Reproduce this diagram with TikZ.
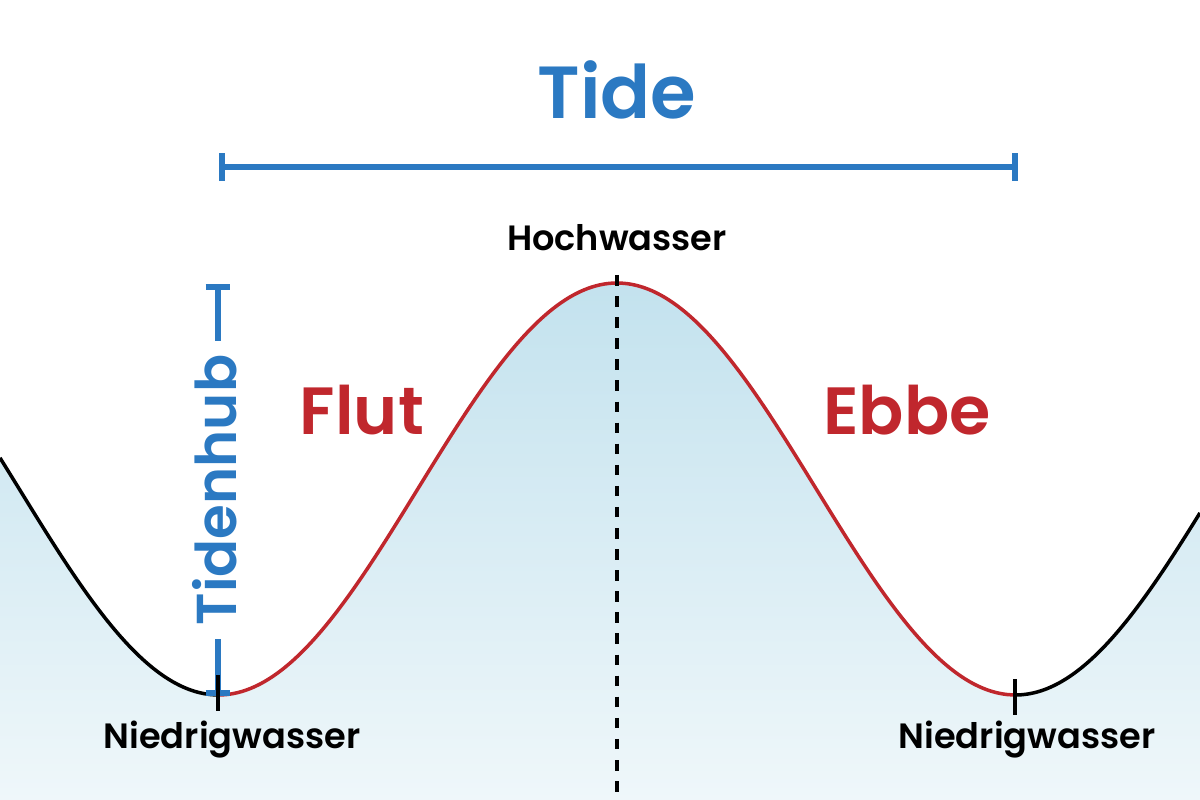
\documentclass[tikz,border=0pt]{standalone}
\usepackage{fontspec}
\setmainfont{Poppins}[BoldFont={Poppins SemiBold}]
\usetikzlibrary{positioning}
\definecolor{tideblue}{HTML}{2B79C2}
\definecolor{tidered}{HTML}{C0272D}
\definecolor{seatop}{HTML}{C3E2EE}
\definecolor{seabot}{HTML}{EFF7FA}
\tikzset{
every node/.style={inner sep=1pt, font=\bfseries},
bar/.style={tideblue, line width=1.5pt},
wlabel/.style={font=\bfseries\fontsize{10}{12}\selectfont}
}
\newcommand{\wave}[1]{3.11+2.06*cos(360*(#1-6.17)/7.97)}

\begin{document}
\begin{tikzpicture}
\useasboundingbox (0,0) rectangle (12,8);
% water
\shade[top color=seatop, bottom color=seabot]
  (0,0) -- plot[domain=0:12, samples=120, smooth] (\x,{\wave{\x}}) -- (12,0) -- cycle;
\draw[black, line width=1pt] plot[domain=0:2.18, samples=30, smooth] (\x,{\wave{\x}});
\draw[black, line width=1pt] plot[domain=10.15:12, samples=30, smooth] (\x,{\wave{\x}});
\draw[tidered, line width=1pt] plot[domain=2.18:10.15, samples=100, smooth] (\x,{\wave{\x}});

% titles
\node[tideblue, font=\bfseries\fontsize{21}{24}\selectfont] (tide) at (6.17,7.1) {Tide};
\coordinate (tl) at (2.22,6.33);
\coordinate (tr) at (10.15,6.33);
\draw[bar] (tl) -- (tr);
\draw[bar] ([yshift=-4pt]tl) -- ([yshift=4pt]tl);
\draw[bar] ([yshift=-4pt]tr) -- ([yshift=4pt]tr);

% high water
\node[wlabel] (hoch) at (6.17,5.62) {Hochwasser};
\coordinate (hw) at (6.17,5.25);
\coordinate (bot) at (6.17,0);
\draw[dashed, line width=1pt] (hw) -- (bot);

% range
\coordinate (ht) at (2.18,5.13);
\coordinate (hb) at (2.18,1.07);
\draw[bar] (ht) -- (hb);
\draw[bar] ([xshift=-3.5pt]ht) -- ([xshift=3.5pt]ht);
\draw[bar] ([xshift=-3.5pt]hb) -- ([xshift=3.5pt]hb);
\node[tideblue, fill=white, rotate=90, inner sep=4pt, font=\bfseries\fontsize{16}{18}\selectfont] (hub) at (2.15,3.1) {Tidenhub};

\node[tidered, font=\bfseries\fontsize{19}{22}\selectfont] (flut) at (3.62,3.9) {Flut};
\node[tidered, font=\bfseries\fontsize{19}{22}\selectfont] (ebbe) at (9.07,3.9) {Ebbe};

% low water
\coordinate (lw1) at (2.18,1.07);
\coordinate (lw2) at (10.15,1.03);
\draw[line width=1pt] ([yshift=-5pt]lw1) -- ([yshift=5pt]lw1);
\draw[line width=1pt] ([yshift=-5pt]lw2) -- ([yshift=5pt]lw2);
\node[wlabel] (nied1) at (2.32,0.6) {Niedrigwasser};
\node[wlabel] (nied2) at (10.27,0.6) {Niedrigwasser};
\end{tikzpicture}
\end{document}
